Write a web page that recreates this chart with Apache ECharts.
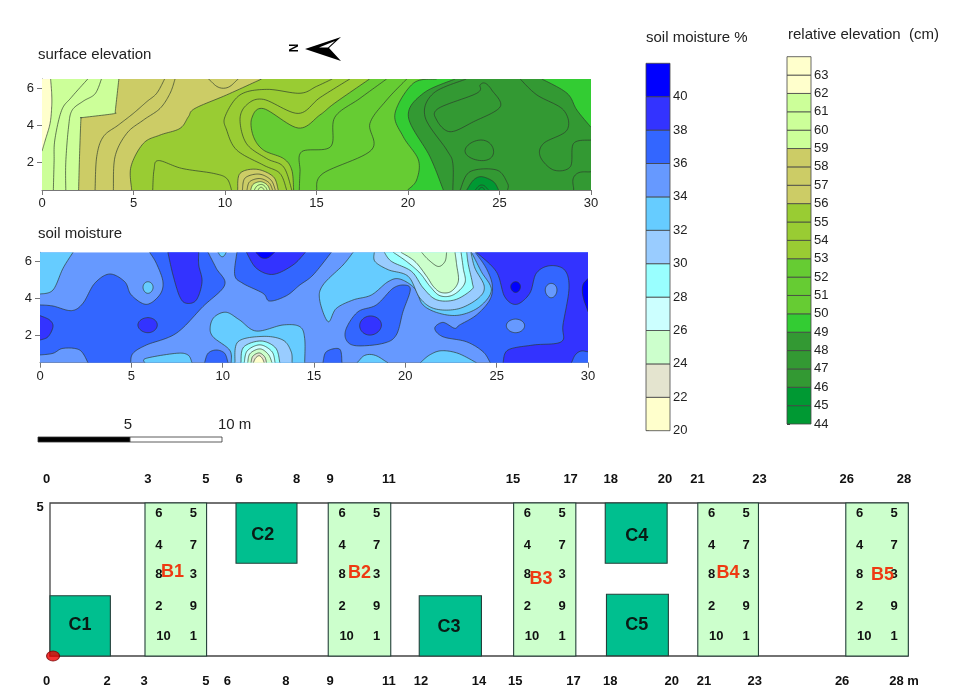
<!DOCTYPE html>
<html><head><meta charset="utf-8">
<style>html,body{margin:0;padding:0;background:#fff}#c{width:960px;height:700px}</style>
<script src="https://cdn.jsdelivr.net/npm/echarts@6/dist/echarts.min.js"></script>
</head><body><div id="c"></div>
<script>
// ---- legend data ----
const moistureLevels=[20,22,24,26,28,30,32,34,36,38,40,42];
const moistureColors=['#ffffcc','#e4e4cf','#ccffcc','#ccffff','#99ffff','#99ccff','#66ccff','#6699ff','#3366ff','#3333ff','#0000ff'];
const moistureTicks=[20,22,24,26,28,30,32,34,36,38,40];
const elevationLevels=[44,45,46,47,48,49,50,51,52,53,54,55,56,57,58,59,60,61,62,63,64];
const elevationColors=['#009933','#009933','#339933','#339933','#339933','#33cc33','#66cc33','#66cc33','#66cc33','#99cc33','#99cc33','#99cc33','#cccc66','#cccc66','#cccc66','#ccff99','#ccff99','#ccff99','#ffffcc','#ffffcc'];
const elevationTicks=[44,45,46,47,48,49,50,51,52,53,54,55,56,57,58,59,60,61,62,63];
const mapXRange=[0,30], mapYRange=[0.5,6.5];

// ---- contours: [band value for the fill (null = line only), traced pieces in (m, m)] ----
const elevationBase=62.5;
const elevationContours=[
 [61.5,[[0,2.6],[0.18,3.2],[0.44,4.1],[0.53,5],[0.53,5.7],[0.47,6.5]],[[30,6.5]],[[30,0.5]],[[0,0.5]]],
 [60.5,[[0.62,0.5],[0.66,2],[0.7,3.2],[1.07,4.8],[1.6,5.5],[2.5,6.5]],[[30,6.5]],[[30,0.5]]],
 [59.5,[[1.3,0.5],[1.3,2],[1.45,3.9],[1.64,4.8],[2.25,5.3],[2.9,5.7],[3.25,6.5]],[[30,6.5]],[[30,0.5]]],
 [58.5,[[2,0.5],[2.05,2.3],[2.12,4.2],[2.15,4.4],[2.25,4.42],[3.9,4.62],[4,4.7],[4.02,4.9],[4.2,6.5]],[[30,6.5]],[[30,0.5]]],
 [57.5,[[2.9,0.5],[2.99,2.3],[3.35,3.38],[4.17,4.01],[4.99,4.64],[5.72,5.27],[6.27,5.73],[6.7,6.5]],[[30,6.5]],[[30,0.5]]],
 [56.5,[[3.9,0.5],[3.99,2.3],[4.63,3.56],[5.54,4.28],[6.45,4.91],[7,5.73],[7.27,6.5]],[[30,6.5]],[[30,0.5]]],
 [null,[[9.09,6.5],[9.91,6],[10.73,6.5]]],
 [55.5,[[4.9,0.5],[4.86,1.76],[5.54,3.02],[6.45,3.47],[7.54,3.83],[8,4.46],[8.36,4.91],[10.09,5.64],[12,6.5]],[[30,6.5]],[[30,0.5]]],
 [null,[[6.05,0.5],[6.12,1.58],[6.36,2.09],[7.63,1.67],[9.36,1.4],[10.09,1.13],[10.36,0.5]]],
 [54.5,[[13.37,0.5],[13,1.4],[12.09,1.85],[10.64,2.66],[10.09,3.74],[10,4.46],[10.82,5.64],[12.28,5.94],[14.1,5.73],[15,6.1],[15.86,6.5]],[[30,6.5]],[[30,0.5]]],
 [53.5,[[13.65,0.5],[13.2,1.75],[12.28,2.2],[11.18,3],[10.82,4.3],[11.18,5.1],[12.1,5.4],[14,4.64],[15.2,5.5],[16.82,6.5]],[[30,6.5]],[[30,0.5]]],
 [52.5,[[13.75,0.5],[13.65,1.58],[13.2,2.2],[12.1,2.66],[11.55,3.4],[11.46,4.37],[12.1,4.9],[14,3.85],[15.18,4.55],[16,5.2],[17.9,6.5]],[[30,6.5]],[[30,0.5]]],
 [51.5,[[14.06,0.5],[14.1,1.5],[14.19,2.57],[15.77,2.84],[16,4.43],[17.37,5.45],[18.83,6.5]],[[30,6.5]],[[30,0.5]]],
 [50.5,[[15,0.5],[15.36,1.4],[18,2.66],[17.92,4.1],[18.83,5.36],[19.93,6.5]],[[30,6.5]],[[30,0.5]]],
 [49.5,[[19.98,0.5],[20.47,1.04],[20.57,2.12],[19.74,3.38],[19.29,4.64],[20.29,6.27],[21.57,6.5]],[[30,6.5]],[[30,0.5]]],
 [48.5,[[21.93,0.5],[21.2,2.3],[20.02,4.46],[20.84,5.73],[22.57,6.5]],[[30,6.5]],[[30,0.5]]],
 [49.5,[[27.32,6.5],[28.69,5.73],[29.23,4.82],[30,3.89]],[[30,6.5]]],
 [null,[[22.45,0.5],[22.45,1.94],[22.12,2.66],[20.93,4.46],[21.39,5.73],[23.18,6.5]]],
 [null,[[26.13,6.5],[27.04,5.64],[28.5,4.82],[28.69,3.74],[27.41,3.02],[27.23,2.3],[27.96,1.58],[28.87,1.76],[29.05,3.02],[30,3.2]]],
 [null,[[29.05,0.5],[29.14,1.31],[30,1.49]]],
 [47.5,[[24.22,6.27],[24.58,5.9],[25.04,5],[23.58,4.19],[22.3,3.65],[21.57,4.28],[21.66,4.91],[23.76,5.73],[23.94,6.18],[24.22,6.27]]],
 [47.5,[[23.94,3.2],[24.67,2.66],[24.12,2.09],[23.12,2.57],[23.94,3.2]]],
 [46.5,[[22.85,0.5],[23.39,1.49],[24.85,1.58],[25.44,0.86],[25.44,0.5]]],
 [45.5,[[23.21,0.5],[23.58,1.04],[24.03,1.22],[24.67,0.95],[24.95,0.5]]],
 [44.5,[[23.67,0.5],[24.03,0.77],[24.4,0.5]]],
 [44.5,[[23.85,0.5],[24.03,0.64],[24.2,0.5]]],
 [56.5,[[10.69,0.5],[10.82,1.4],[11.73,1.62],[12.64,1.22],[12.91,0.5]]],
 [57.5,[[10.95,0.5],[11.1,1.15],[11.85,1.36],[12.5,1.05],[12.75,0.5]]],
 [58.5,[[11.2,0.5],[11.35,0.95],[11.9,1.12],[12.4,0.9],[12.6,0.5]]],
 [59.5,[[11.4,0.5],[11.55,0.82],[11.95,0.95],[12.3,0.78],[12.45,0.5]]],
 [60.5,[[11.6,0.5],[11.75,0.72],[12,0.8],[12.2,0.68],[12.3,0.5]]],
 [61.5,[[11.8,0.5],[11.97,0.65],[12.15,0.5]]],
];
const moistureBase=35;
const moistureContours=[
 [33,[[0,4.23],[0.71,4.45],[1.26,5.63],[1.81,6.5]],[[0,6.5]]],
 [37,[[0,3.64],[0.71,3.58],[1.72,3.33],[2.35,3.73],[2.99,4.81],[3.81,5.32],[4.64,4.9],[5,4.18],[5.82,3.67],[6.55,4.18],[6.73,4.9],[6.37,5.9],[6,6.5]],
     [[9.2,6.5],[9.65,5.63],[10.11,4.72],[8.92,3.55],[7.46,2.1],[5.82,1.46],[5.09,1.01],[4.96,0.5]],
     [[2.63,0.5],[2.17,1.19],[1.26,1.28],[0.71,1.01],[0,0.92]]],
 [39,[[0,3.06],[0.53,2.82],[0.71,2.46],[0.44,1.91],[0,1.73]]],
 [39,[[5.36,2.55],[5.91,2.95],[6.42,2.55],[5.91,2.13],[5.36,2.55]]],
 [39,[[7,6.5],[7.28,5.27],[7.65,4.09],[8.01,3.73],[8.56,3.91],[8.87,4.9],[8.69,5.81],[8.69,6.5]]],
 [33,[[5.64,4.6],[5.91,4.9],[6.19,4.6],[5.91,4.27],[5.64,4.6]]],
 [37,[[10.78,6.5],[10.66,5.27],[11.11,4.81],[12.21,4.27],[12.57,3.85],[13.49,4.14],[14.22,4.72],[14.95,5.27],[15.95,6.5]]],
 [39,[[11.3,6.5],[11.85,5.63],[12.76,5.3],[13.85,5.81],[14.53,6.5]]],
 [41,[[11.81,6.5],[12.3,6.17],[12.85,6.5]]],
 [33,[[9.74,6.5],[9.98,6.26],[10.2,6.5]]],
 [33,[[5.73,0.5],[5.82,0.74],[7.46,1.01],[8.1,0.92],[8.32,0.5]]],
 [37,[[9.01,0.5],[9.2,1.01],[9.65,1.19],[10.11,1.01],[10.29,0.5]]],
 [33,[[10.47,0.5],[10.38,1.19],[9.47,1.91],[9.32,2.46],[9.56,3],[10.2,3.24],[10.93,2.82],[11.84,2.22],[13.3,2.55],[14.22,2.46],[14.49,1.82],[14.49,0.5]]],
 [31,[[10.67,0.5],[10.84,1.64],[12.21,1.93],[13.3,1.73],[13.75,1.1],[13.8,0.5]]],
 [29,[[11,0.5],[11.15,1.35],[12.1,1.68],[12.9,1.3],[13.13,0.5]]],
 [27,[[11.18,0.5],[11.35,1.15],[12.05,1.47],[12.7,1.1],[12.87,0.5]]],
 [25,[[11.37,0.5],[11.5,1],[12.05,1.25],[12.5,0.95],[12.7,0.5]]],
 [23,[[11.55,0.5],[11.65,0.85],[12,1.03],[12.3,0.82],[12.4,0.5]]],
 [21,[[11.68,0.5],[11.8,0.75],[12,0.88],[12.18,0.72],[12.27,0.5]]],
 [33,[[17.14,6.5],[16.59,5.81],[15.49,4.72],[15.31,3.91],[15.77,2.73],[16.22,3.45],[17.14,3.91],[18.14,4.18],[19.05,4.9],[19.69,5.05],[20.51,4.54],[20.97,3.64],[21.88,3.18],[22.97,3.09],[24.07,3.55],[24.71,4.45],[24.16,5.45],[23.7,6.35],[23.61,6.5]]],
 [31,[[18.3,6.5],[18.34,6],[19.07,5.55],[20.16,5.19],[20.8,4.01],[21.62,3.43],[22.9,3.43],[24,4.01],[24.32,4.65],[23.81,5.64],[23.59,6.5]]],
 [29,[[18.85,6.5],[19.25,6],[20.34,5.46],[20.98,4.56],[21.71,3.92],[22.72,3.92],[23.63,4.47],[23.67,4.83],[23.45,5.82],[23.36,6.5]]],
 [27,[[19.34,6.5],[20.07,6],[20.8,5.37],[21.35,4.65],[21.9,4.14],[22.63,4.19],[23.26,4.83],[23.17,5.64],[23.05,6.5]]],
 [25,[[19.76,6.5],[20.53,6],[21.17,5.19],[21.53,4.65],[21.95,4.32],[22.5,4.37],[22.9,4.92],[22.81,5.82],[22.72,6.5]]],
 [null,[[20.89,6.5],[21.26,6.1],[21.8,5.73],[22.17,6],[22.26,6.5]]],
 [37,[[23.83,6.5],[24.43,5.63],[24.76,4.72],[24.62,3.91],[23.89,3.09],[22.97,2.55],[22.7,2.37],[22.06,2.69],[21.61,2.37],[22.06,1.91],[23.34,1.64],[24.25,1.1],[24.65,0.5]],[[30,0.5]],[[30,6.5]]],
 [39,[[23.89,6.5],[24.98,5.45],[25.44,4.09],[26.08,3.67],[26.81,4.27],[27.17,5.36],[27.9,5.77],[28.72,5.54],[28.96,4.54],[28.63,2.55],[28.54,1.64],[26.99,1.46],[25.62,1.19],[25.35,0.5]],[[29.09,0.5],[29.45,1.06],[30,1.1]],[[30,6.5]]],
 [35,[[25.53,2.51],[26.04,2.87],[26.53,2.51],[26.04,2.13],[25.53,2.51]]],
 [35,[[27.66,4.45],[27.99,4.81],[28.3,4.45],[27.99,4.03],[27.66,4.45]]],
 [41,[[25.77,4.63],[26.04,4.9],[26.3,4.63],[26.04,4.32],[25.77,4.63]]],
 [41,[[30,5.08],[29.69,4.45],[30,3.27]]],
 [37,[[19.96,4.72],[20.27,4.45],[19.87,3.27],[19.5,2],[18.78,1.55],[17.32,1.42],[16.77,1.73],[16.77,2.37],[17.41,3.27],[18.41,3.64],[19.32,4.54],[19.96,4.72]]],
 [39,[[17.5,2.51],[18.08,3.04],[18.69,2.55],[18.08,2],[17.5,2.51]]],
 [37,[[15.49,0.5],[15.68,1.1],[16.4,1.24],[16.53,0.5]]],
 [33,[[17.35,0.5],[18.05,0.95],[19.05,0.5]]],
 [33,[[20.82,0.5],[21.33,0.92],[21.97,1.15],[22.88,1.01],[23.89,0.5]]],
];

// ---- scale bar ----
const scaleSegments=[[0,5,'#000'],[5,10,'#fff']];

// ---- field plan (metres) ----
const fieldSize=[28,5];
const treatmentPlots=[['B1',3.1,5.11,0,5],['B2',9.08,11.12,0,5],['B3',15.13,17.16,0,5],['B4',21.14,23.12,0,5],['B5',25.97,28.01,0,5]];
const controlPlots=[['C1',0,1.97,0,1.97],['C2',6.07,8.06,3.03,5],['C3',12.05,14.08,0,1.97],['C4',18.12,20.14,3.03,5],['C5',18.16,20.18,0.01,2.02]];
const treatmentLabelPos=[[4,2.74],[10.1,2.71],[16.02,2.52],[22.13,2.71],[27.17,2.63]];
const controlLabelPos=[[0.98,1],[6.94,3.94],[13.02,0.94],[19.15,3.92],[19.15,1]];
const sampleRows=[4.66,3.63,2.65,1.62,0.64];
const sampleLeft=[6,4,8,2,10];
const sampleRight=[5,7,3,9,1];
const topLabels=['0','3','5','6','8','9','11','15','17','18','20','21','23','26','28'];
const topLabelPos=[-0.11,3.19,5.09,6.17,8.05,9.14,11.06,15.11,16.99,18.3,20.07,21.13,23.15,26,27.87];
const bottomLabels=['0','2','3','5','6','8','9','11','12','14','15','17','18','20','21','23','26','28 m'];
const bottomLabelPos=[-0.11,1.86,3.07,5.09,5.79,7.7,9.14,11.06,12.11,14,15.18,17.08,18.28,20.29,21.34,23,25.85,27.87];

const FONT='"Liberation Sans",Arial,sans-serif';
function spline(p){
  const closed=p.length>3&&p[0][0]===p[p.length-1][0]&&p[0][1]===p[p.length-1][1];
  const n=p.length,out=[];
  const s=(closed&&n===5)||n===3?1.6:1;
  const at=i=>closed?p[((i%(n-1))+(n-1))%(n-1)]:p[Math.max(0,Math.min(n-1,i))];
  for(let i=0;i<n-1;i++){
    const a=at(i-1),b=at(i),c=at(i+1),d=at(i+2);
    for(let k=0;k<12;k++){
      const t=k/12,t2=t*t,t3=t2*t;
      out.push([0,1].map(j=>{
        const m0=s*(c[j]-a[j])/2,m1=s*(d[j]-b[j])/2;
        return (2*t3-3*t2+1)*b[j]+(t3-2*t2+t)*m0+(-2*t3+3*t2)*c[j]+(t3-t2)*m1;
      }));
    }
  }
  out.push(at(n-1)); return out;
}
function contourRender(list,colorOf,base){
  return function(params,api){
    const i=params.dataIndex,children=[];
    if(i===0){
      const c=[[mapXRange[0],mapYRange[0]],[mapXRange[1],mapYRange[0]],[mapXRange[1],mapYRange[1]],[mapXRange[0],mapYRange[1]]].map(q=>api.coord(q));
      children.push({type:'polygon',shape:{points:c},style:{fill:colorOf(base)}});
    }else{
      const e=list[i-1],band=e[0],segs=e.slice(1).map(s=>s.length>2?spline(s):s);
      const px=segs.map(s=>s.map(q=>api.coord(q)));
      if(band!==null) children.push({type:'polygon',shape:{points:[].concat(...px)},style:{fill:colorOf(band)}});
      px.forEach(s=>{ if(s.length>2) children.push({type:'polyline',shape:{points:s},style:{fill:'none',stroke:'#2c3a2c',lineWidth:0.8,opacity:0.85}}); });
    }
    return {type:'group',children};
  };
}
const elevColor=v=>elevationColors[Math.max(0,Math.min(elevationColors.length-1,Math.floor(v)-44))];
const moistColor=v=>moistureColors[Math.max(0,Math.min(moistureColors.length-1,Math.floor((v-20)/2)))];
function legendRender(levels,colors){
  return function(params,api){
    const i=params.dataIndex,a=api.coord([0,levels[i]]),b=api.coord([1,levels[i+1]]);
    return {type:'rect',shape:{x:a[0],y:b[1],width:b[0]-a[0],height:a[1]-b[1]},style:{fill:colors[i],stroke:'#444',lineWidth:0.8}};
  };
}
function plotRender(list,fill,strokeW){
  return function(params,api){
    const p=list[params.dataIndex],a=api.coord([p[1],p[3]]),b=api.coord([p[2],p[4]]);
    return {type:'rect',shape:{x:a[0],y:b[1],width:b[0]-a[0],height:a[1]-b[1]},style:{fill:fill,stroke:'#24403a',lineWidth:strokeW}};
  };
}
function textRender(get,font,fill){
  return function(params,api){
    const t=get(params.dataIndex),c=api.coord([t[1],t[2]]);
    return {type:'text',style:{x:c[0],y:c[1],text:t[0],font:font,fill:fill,align:'center',verticalAlign:'middle'}};
  };
}
const mapX=(g)=>({gridIndex:g,type:'value',min:mapXRange[0],max:mapXRange[1],interval:5,splitLine:{show:false},axisLine:{onZero:false,lineStyle:{color:'#777'}},axisTick:{length:5,lineStyle:{color:'#777'}},axisLabel:{color:'#222',fontSize:13,fontFamily:FONT,margin:7,showMinLabel:true,showMaxLabel:true}});
const mapY=(g)=>({gridIndex:g,type:'value',min:mapYRange[0],max:mapYRange[1],splitLine:{show:false},axisLine:{onZero:false,lineStyle:{color:'#777'}},axisTick:{length:5,customValues:[2,4,6],lineStyle:{color:'#777'}},axisLabel:{customValues:[2,4,6],color:'#222',fontSize:13,fontFamily:FONT,margin:8}});
const legX=(g)=>({gridIndex:g,type:'value',min:0,max:1,show:false});
const legY=(g,lv,ticks)=>({gridIndex:g,type:'value',position:'right',min:lv[0],max:lv[lv.length-1],splitLine:{show:false},axisLine:{show:false},axisTick:{length:3,customValues:ticks,lineStyle:{color:'#444'}},axisLabel:{customValues:ticks,color:'#222',fontSize:13,fontFamily:FONT,margin:3}});
const hidden=(g,a,b)=>({gridIndex:g,type:'value',min:a,max:b,show:false});
const leftCol=[],rightCol=[];
treatmentPlots.forEach(p=>{sampleRows.forEach((r,i)=>{
  const w=sampleLeft[i]>=10?0.6:0.45;
  leftCol.push([String(sampleLeft[i]),p[1]+w,r]);
  rightCol.push([String(sampleRight[i]),p[1]+1.58,r]);
});});
const allNums=leftCol.concat(rightCol);
const idx=a=>a.map((_,i)=>[i,0]);
const txt=(x,y,s,font,extra)=>({type:'text',silent:true,style:Object.assign({x,y,text:s,font:font,fill:'#222',verticalAlign:'middle'},extra||{})});
const option={
  animation:false,backgroundColor:'#fff',
  grid:[
    {left:42,top:79,width:549,height:111},
    {left:40,top:252.3,width:548,height:110.4},
    {left:646,top:63.3,width:24,height:367.4},
    {left:787,top:56.7,width:24,height:367.3},
    {left:38,top:437,width:184,height:5},
    {left:50,top:503,width:858,height:153},
  ],
  xAxis:[mapX(0),mapX(1),legX(2),legX(3),hidden(4,0,10),hidden(5,0,fieldSize[0])],
  yAxis:[mapY(0),mapY(1),legY(2,moistureLevels,moistureTicks),legY(3,elevationLevels,elevationTicks),hidden(4,0,1),hidden(5,0,fieldSize[1])],
  series:[
    {type:'custom',xAxisIndex:0,yAxisIndex:0,clip:true,data:idx([0].concat(elevationContours)),renderItem:contourRender(elevationContours,elevColor,elevationBase)},
    {type:'custom',xAxisIndex:1,yAxisIndex:1,clip:true,data:idx([0].concat(moistureContours)),renderItem:contourRender(moistureContours,moistColor,moistureBase)},
    {type:'custom',xAxisIndex:2,yAxisIndex:2,data:idx(moistureColors),renderItem:legendRender(moistureLevels,moistureColors)},
    {type:'custom',xAxisIndex:3,yAxisIndex:3,data:idx(elevationColors),renderItem:legendRender(elevationLevels,elevationColors)},
    {type:'custom',xAxisIndex:4,yAxisIndex:4,data:idx(scaleSegments),renderItem:function(p,api){const s=scaleSegments[p.dataIndex],a=api.coord([s[0],0]),b=api.coord([s[1],1]);return {type:'rect',shape:{x:a[0],y:b[1],width:b[0]-a[0],height:a[1]-b[1]},style:{fill:s[2],stroke:'#333',lineWidth:0.8}};}},
    {type:'custom',xAxisIndex:5,yAxisIndex:5,clip:false,data:[[0,0]],renderItem:function(p,api){const a=api.coord([0,0]),b=api.coord(fieldSize);return {type:'rect',shape:{x:a[0],y:b[1],width:b[0]-a[0],height:a[1]-b[1]},style:{fill:'none',stroke:'#444',lineWidth:1.3}};}},
    {type:'custom',xAxisIndex:5,yAxisIndex:5,clip:false,data:idx(controlPlots),renderItem:plotRender(controlPlots,'#00bf8f',1.1)},
    {type:'custom',xAxisIndex:5,yAxisIndex:5,clip:false,data:idx(treatmentPlots),renderItem:plotRender(treatmentPlots,'#ccffcc',1.1)},
    {type:'custom',xAxisIndex:5,yAxisIndex:5,clip:false,data:idx(allNums),renderItem:textRender(i=>allNums[i],'bold 13px '+FONT,'#111')},
    {type:'custom',xAxisIndex:5,yAxisIndex:5,clip:false,data:idx(treatmentPlots),renderItem:textRender(i=>[treatmentPlots[i][0],treatmentLabelPos[i][0],treatmentLabelPos[i][1]],'bold 18px '+FONT,'#ee3a12')},
    {type:'custom',xAxisIndex:5,yAxisIndex:5,clip:false,data:idx(controlPlots),renderItem:textRender(i=>[controlPlots[i][0],controlLabelPos[i][0],controlLabelPos[i][1]],'bold 18px '+FONT,'#0a1a14')},
    {type:'custom',xAxisIndex:5,yAxisIndex:5,clip:false,data:idx(topLabels),renderItem:textRender(i=>[topLabels[i],topLabelPos[i],5.78],'bold 13px '+FONT,'#111')},
    {type:'custom',xAxisIndex:5,yAxisIndex:5,clip:false,data:idx(bottomLabels),renderItem:textRender(i=>[bottomLabels[i],bottomLabelPos[i],-0.82],'bold 13px '+FONT,'#111')},
    {type:'custom',xAxisIndex:5,yAxisIndex:5,clip:false,data:[[0,0]],renderItem:textRender(()=>['5',-0.32,4.84],'bold 13px '+FONT,'#111')},
    {type:'scatter',xAxisIndex:5,yAxisIndex:5,clip:false,data:[[0.1,0]],symbol:'circle',symbolSize:[13,10],itemStyle:{color:'#ee0000',borderColor:'#700',borderWidth:1},z:5},
  ],
  graphic:{elements:[
    txt(38,55,'surface elevation','15px '+FONT),
    txt(38,234,'soil moisture','15px '+FONT),
    txt(646,38,'soil moisture %','15px '+FONT),
    txt(788,35,'relative elevation  (cm)','15px '+FONT),
    txt(128,425,'5','15px '+FONT,{align:'center'}),
    txt(218,425,'10 m','15px '+FONT),
    {type:'polygon',silent:true,shape:{points:[[305,49],[341,37],[329,48],[341,61]]},style:{fill:'#000'}},
    {type:'polygon',silent:true,shape:{points:[[319,47.5],[335,41],[328,47.5]]},style:{fill:'#fff'}},
    {type:'text',silent:true,rotation:Math.PI/2,x:295,y:48,style:{text:'N',font:'bold 12px '+FONT,fill:'#000',align:'center',verticalAlign:'middle'}},
  ]},
};
echarts.init(document.getElementById('c'),null,{renderer:'canvas'}).setOption(option);
</script>
</body></html>
